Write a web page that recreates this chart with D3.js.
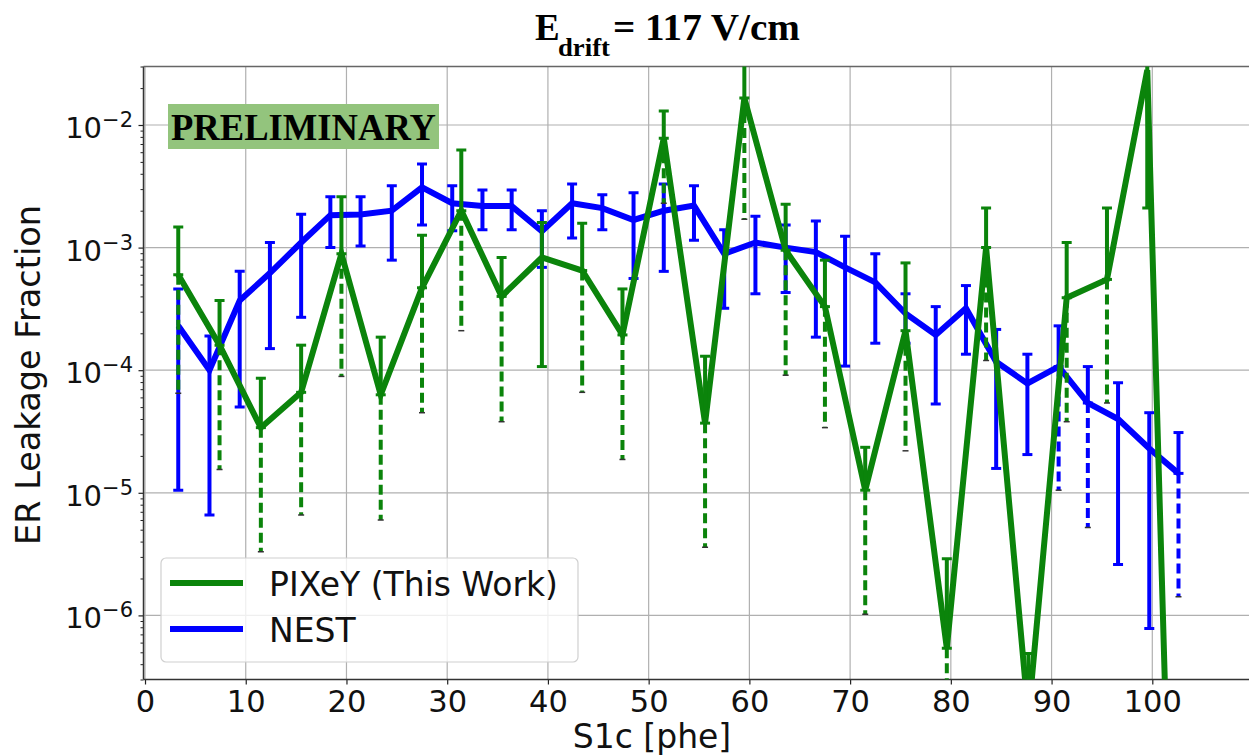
<!DOCTYPE html>
<html>
<head>
<meta charset="utf-8">
<script src="https://cdn.jsdelivr.net/npm/d3@7"></script>
<style>
  body { margin: 0; background: #fff; }
  svg { display: block; }
</style>
</head>
<body>
<script>
// S1c bins and leakage values
var nestX  = [3.3, 6.4, 9.4, 12.4, 15.5, 18.4, 21.4, 24.5, 27.5, 30.5, 33.5, 36.4, 39.4, 42.4, 45.4, 48.5, 51.5,
              54.5, 57.5, 60.6, 63.6, 66.6, 69.5, 72.5, 75.5, 78.5, 81.5, 84.5, 87.6, 90.7, 93.6, 96.6, 99.7, 102.6];
var nestY  = [2.3e-4, 1.0e-4, 3.7e-4, 6.2e-4, 1.1e-3, 1.84e-3, 1.86e-3, 2.0e-3, 3.1e-3, 2.3e-3, 2.18e-3, 2.18e-3,
              1.36e-3, 2.3e-3, 2.1e-3, 1.68e-3, 2.0e-3, 2.2e-3, 8.9e-4, 1.1e-3, 1.0e-3, 9.2e-4, 6.9e-4, 5.2e-4,
              2.9e-4, 1.94e-4, 3.2e-4, 1.17e-4, 7.8e-5, 1.07e-4, 5.4e-5, 4.0e-5, 2.3e-5, 1.44e-5];
var nestHi = [4.6e-4, 1.9e-4, 6.4e-4, 1.1e-3, 1.87e-3, 2.6e-3, 2.6e-3, 3.2e-3, 4.8e-3, 3.2e-3, 2.95e-3, 2.95e-3,
              2.0e-3, 3.3e-3, 2.7e-3, 2.8e-3, 3.3e-3, 3.2e-3, 1.4e-3, 1.8e-3, 1.53e-3, 1.65e-3, 1.24e-3, 8.9e-4,
              4.2e-4, 3.3e-4, 4.9e-4, 2.15e-4, 1.35e-4, 2.3e-4, 1.07e-4, 7.9e-5, 4.5e-5, 3.1e-5];
var nestLo = [1.05e-5, 6.6e-6, 5e-5, 1.5e-4, 2.7e-4, 1e-3, 1.03e-3, 7.9e-4, 1.53e-3, 1.37e-3, 1.4e-3, 1.4e-3,
              6.9e-4, 1.2e-3, 1.4e-3, 5.6e-4, 6.4e-4, 1.15e-3, 3.2e-4, 4.2e-4, 4.3e-4, 1.86e-4, 1.08e-4, 1.66e-4,
              1.66e-4, 5.3e-5, 1.35e-4, 1.58e-5, 2.05e-5, 1.05e-5, 5.2e-6, 2.6e-6, 7.8e-7, 1.42e-6];
var nestDash = [0,0,0,0,0,0,0,0,0,0,0,0,0,0,0,0,0,0,0,0,0,0,0,0,0,0,0,0,0,1,1,0,0,1];

var pixX  = [3.3, 7.4, 11.5, 15.5, 19.5, 23.4, 27.5, 31.4, 35.4, 39.4, 43.4, 47.4, 51.5, 55.6, 59.5, 63.6, 67.5,
             71.5, 75.5, 79.6, 83.5, 87.7, 91.5, 95.5, 99.5, 103.5];
var pixY  = [6.0e-4, 1.6e-4, 3.4e-5, 6.6e-5, 8.9e-4, 6.3e-5, 4.7e-4, 2.0e-3, 4.0e-4, 8.3e-4, 6.5e-4, 1.94e-4,
             7.8e-3, 3.7e-5, 1.66e-2, 9.5e-4, 3.3e-4, 1.05e-5, 2.1e-4, 5.4e-7, 1.0e-3, 1.5e-7, 3.9e-4, 5.5e-4,
             2.8e-2, 1e-13];
var pixHi = [1.47e-3, 3.7e-4, 8.6e-5, 1.6e-4, 2.6e-3, 1.86e-4, 1.26e-3, 6.25e-3, 8.3e-4, 1.6e-3, 1.58e-3, 4.6e-4,
             1.3e-2, 1.3e-4, 5e-2, 2.26e-3, 7.9e-4, 2.35e-5, 7.5e-4, 2.9e-6, 2.1e-3, 4.9e-7, 1.1e-3, 2.1e-3,
             5e-2, null];
var pixLo = [6.5e-5, 1.55e-5, 3.3e-6, 6.6e-6, 8.9e-5, 6.0e-6, 4.5e-5, 2.1e-4, 3.8e-5, 1.07e-4, 6.6e-5, 1.87e-5,
             2.3e-3, 3.6e-6, 1.7e-3, 9.1e-5, 3.4e-5, 1.02e-6, 2.2e-5, 1e-7, 1.2e-4, null, 3.8e-5, 5.4e-5,
             2.1e-3, null];
var pixDash = [1,1,1,1,1,1,1,1,1,0,1,1,1,1,1,1,1,1,1,1,1,0,1,1,0,0];

var xTicks = [0, 10, 20, 30, 40, 50, 60, 70, 80, 90, 100];
var yTicks = [1e-6, 1e-5, 1e-4, 1e-3, 1e-2];
var legendNames = ["PIXeY (This Work)", "NEST"];

var W = 1249, H = 756;
var pL = 143.5, pR = 1249, pT = 66.5, pB = 679.5;
var green = "#0b840b", blue = "#0000ff";

var svg = d3.select("body").append("svg").attr("width", W).attr("height", H);

var x = d3.scaleLinear().domain([-0.15, 109.6]).range([pL, pR]);
var y = d3.scaleLog().domain([3e-7, 3e-2]).range([pB, pT]);

svg.append("defs").append("clipPath").attr("id", "plot")
  .append("rect").attr("x", pL).attr("y", pT).attr("width", pR - pL).attr("height", pB - pT);

// grid
var grid = svg.append("g").attr("stroke", "#b0b0b0").attr("stroke-width", 1.2);
grid.selectAll(".gx").data(xTicks).enter().append("line")
  .attr("x1", function(d){ return x(d); }).attr("x2", function(d){ return x(d); })
  .attr("y1", pT).attr("y2", pB);
grid.selectAll(".gy").data(yTicks).enter().append("line")
  .attr("x1", pL).attr("x2", pR)
  .attr("y1", function(d){ return y(d); }).attr("y2", function(d){ return y(d); });

// axes
var xAxis = d3.axisBottom(x).tickValues(xTicks).tickSize(5).tickPadding(6).tickFormat(d3.format("d"));
var gx = svg.append("g").attr("transform", "translate(0," + pB + ")").call(xAxis);
gx.select(".domain").remove();
gx.selectAll("line").attr("stroke", "#222").attr("stroke-width", 1.2);
gx.selectAll("text").attr("font-family", "DejaVu Sans").attr("font-size", 30.5).attr("fill", "#111");

var minor = [];
for (var e = -7; e <= -2; e++) {
  for (var m = 2; m <= 9; m++) {
    var v = m * Math.pow(10, e);
    if (v >= 3e-7 && v <= 3e-2) minor.push(v);
  }
}
var gy = svg.append("g").attr("transform", "translate(" + pL + ",0)")
  .call(d3.axisLeft(y).tickValues(minor).tickSize(3).tickFormat(""));
gy.select(".domain").remove();
gy.selectAll("line").attr("stroke", "#222").attr("stroke-width", 1);
var gyMaj = svg.append("g").attr("transform", "translate(" + pL + ",0)")
  .call(d3.axisLeft(y).tickValues(yTicks).tickSize(5).tickFormat(""));
gyMaj.select(".domain").remove();
gyMaj.selectAll("line").attr("stroke", "#222").attr("stroke-width", 1.2);

var yl = svg.append("g").selectAll("text").data(yTicks).enter().append("text")
  .attr("x", 133).attr("y", function(d){ return y(d) + 13; })
  .attr("text-anchor", "end").attr("font-family", "DejaVu Sans").attr("fill", "#111");
yl.append("tspan").attr("font-size", 29).text("10");
yl.append("tspan").attr("font-size", 21).attr("dy", -11)
  .text(function(d){ return "\u2212" + Math.round(-Math.log10(d)); });

// frame
svg.append("line").attr("x1", pL).attr("x2", pL).attr("y1", pT).attr("y2", pB).attr("stroke", "#333").attr("stroke-width", 1.5);
svg.append("line").attr("x1", pL).attr("x2", pR).attr("y1", pB).attr("y2", pB).attr("stroke", "#333").attr("stroke-width", 1.5);
svg.append("line").attr("x1", pL).attr("x2", pR).attr("y1", pT).attr("y2", pT).attr("stroke", "#666").attr("stroke-width", 1.5);

// data series with error bars
var plot = svg.append("g").attr("clip-path", "url(#plot)");

function drawSeries(xs, ys, hi, lo, dash, color) {
  var g = plot.append("g");
  var pts = xs.map(function(d, i){ return {x: d, y: ys[i], hi: hi[i], lo: lo[i], dash: dash[i]}; });
  var line = d3.line().x(function(d){ return x(d.x); }).y(function(d){ return y(d.y); });
  g.append("path").datum(pts).attr("d", line).attr("fill", "none")
    .attr("stroke", color).attr("stroke-width", 6).attr("stroke-linejoin", "miter");
  var bars = g.selectAll(".bar").data(pts).enter().append("g");
  bars.each(function(d){
    var b = d3.select(this), cx = x(d.x), cw = 5;
    if (d.hi != null) {
      b.append("line").attr("x1", cx).attr("x2", cx).attr("y1", y(d.y)).attr("y2", y(d.hi))
        .attr("stroke", color).attr("stroke-width", 4);
      b.append("line").attr("x1", cx - cw).attr("x2", cx + cw).attr("y1", y(d.hi)).attr("y2", y(d.hi))
        .attr("stroke", color).attr("stroke-width", 3);
    }
    if (d.lo != null) {
      if (d.dash) {
        b.append("line").attr("x1", cx).attr("x2", cx).attr("y1", y(d.y)).attr("y2", y(d.lo))
          .attr("stroke", color).attr("stroke-width", 4).attr("stroke-dasharray", "10,5");
        b.append("line").attr("x1", cx - 3).attr("x2", cx + 3).attr("y1", y(d.lo)).attr("y2", y(d.lo))
          .attr("stroke", "#333").attr("stroke-width", 1.5);
        b.append("line").attr("x1", cx - cw).attr("x2", cx + cw).attr("y1", y(d.y)).attr("y2", y(d.y))
          .attr("stroke", color).attr("stroke-width", 3);
      } else {
        b.append("line").attr("x1", cx).attr("x2", cx).attr("y1", y(d.y)).attr("y2", y(d.lo))
          .attr("stroke", color).attr("stroke-width", 4);
        b.append("line").attr("x1", cx - cw).attr("x2", cx + cw).attr("y1", y(d.lo)).attr("y2", y(d.lo))
          .attr("stroke", color).attr("stroke-width", 3);
      }
    }
  });
}

drawSeries(nestX, nestY, nestHi, nestLo, nestDash, blue);
drawSeries(pixX, pixY, pixHi, pixLo, pixDash, green);

// PRELIMINARY stamp
svg.append("rect").attr("x", 168).attr("y", 104).attr("width", 271).attr("height", 45).attr("fill", "#93c47d");
svg.append("text").attr("x", 171).attr("y", 140).attr("textLength", 265).attr("lengthAdjust", "spacingAndGlyphs")
  .attr("font-family", "Liberation Serif").attr("font-weight", "bold").attr("font-size", 38).attr("fill", "#000")
  .text("PRELIMINARY");

// legend
var lg = svg.append("g");
lg.append("rect").attr("x", 161).attr("y", 558).attr("width", 417).attr("height", 104).attr("rx", 5)
  .attr("fill", "#fff").attr("fill-opacity", 0.8).attr("stroke", "#d0d0d0").attr("stroke-width", 1.2);
var legColors = [green, blue];
lg.selectAll(".li").data(legendNames).enter().append("line")
  .attr("x1", 170).attr("x2", 243)
  .attr("y1", function(d, i){ return 583 + i * 46; }).attr("y2", function(d, i){ return 583 + i * 46; })
  .attr("stroke", function(d, i){ return legColors[i]; }).attr("stroke-width", 6);
lg.selectAll(".lt").data(legendNames).enter().append("text")
  .attr("x", 269).attr("y", function(d, i){ return 596 + i * 46; })
  .attr("font-family", "DejaVu Sans").attr("font-size", 33).attr("fill", "#111")
  .text(function(d){ return d; });

// axis labels
svg.append("text").attr("x", 652).attr("y", 748).attr("text-anchor", "middle")
  .attr("font-family", "DejaVu Sans").attr("font-size", 33).attr("fill", "#111").text("S1c [phe]");
svg.append("text").attr("transform", "translate(40,375) rotate(-90)").attr("text-anchor", "middle")
  .attr("font-family", "DejaVu Sans").attr("font-size", 33.5).attr("fill", "#111").text("ER Leakage Fraction");

// title
var tf = "Liberation Serif";
svg.append("text").attr("x", 535).attr("y", 40).attr("font-family", tf).attr("font-weight", "bold")
  .attr("font-size", 37).attr("fill", "#000").text("E");
svg.append("text").attr("x", 558).attr("y", 56).attr("textLength", 52).attr("lengthAdjust", "spacingAndGlyphs")
  .attr("font-family", tf).attr("font-weight", "bold").attr("font-size", 25).attr("fill", "#000").text("drift");
svg.append("text").attr("x", 613).attr("y", 40).attr("textLength", 187).attr("lengthAdjust", "spacingAndGlyphs")
  .attr("font-family", tf).attr("font-weight", "bold").attr("font-size", 37).attr("fill", "#000").text("= 117 V/cm");
</script>
</body>
</html>
